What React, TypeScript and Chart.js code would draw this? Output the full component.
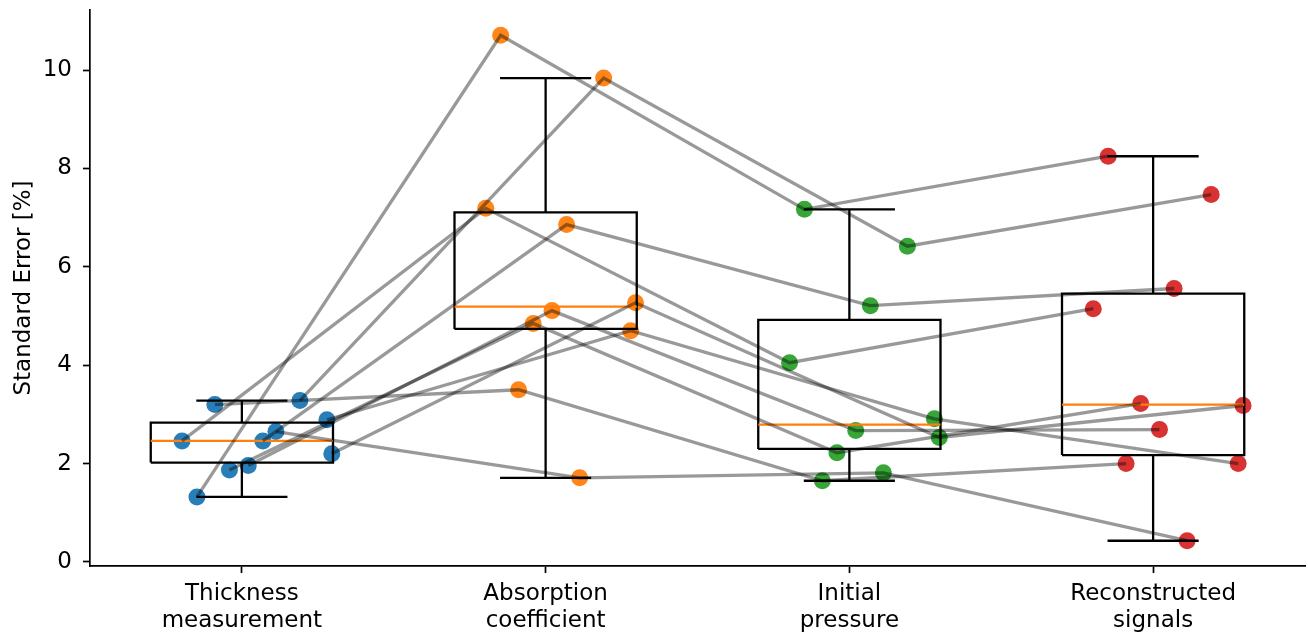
import React, { useEffect, useRef } from "react";
import { Chart, registerables } from "chart.js";

Chart.register(...registerables);

// ---- data ----
const categoryLabels: string[][] = [
  ["Thickness", "measurement"],
  ["Absorption", "coefficient"],
  ["Initial", "pressure"],
  ["Reconstructed", "signals"],
];
const categoryColors = [
  "rgba(31,119,180,0.95)",
  "rgba(255,127,14,0.95)",
  "rgba(44,160,44,0.95)",
  "rgba(214,39,40,0.95)",
];
// horizontal jitter of each subject (same for every category)
const subjectJitter = [-0.197, -0.148, -0.089, -0.041, 0.021, 0.069, 0.112, 0.191, 0.28, 0.296];
// standard error [%] per subject
const thicknessMeasurement = [2.46, 1.32, 3.2, 1.87, 1.96, 2.46, 2.65, 3.28, 2.89, 2.2];
const absorptionCoefficient = [7.19, 10.71, 3.5, 4.85, 5.11, 6.86, 1.71, 9.84, 4.7, 5.27];
const initialPressure = [4.05, 7.17, 1.65, 2.22, 2.67, 5.21, 1.81, 6.42, 2.91, 2.53];
const reconstructedSignals = [5.15, 8.25, 2.0, 3.22, 2.69, 5.56, 0.43, 7.47, 2.0, 3.18];
const yTickValues = [0, 2, 4, 6, 8, 10];

const series = [thicknessMeasurement, absorptionCoefficient, initialPressure, reconstructedSignals];

function quantile(sorted: number[], q: number) {
  const pos = (sorted.length - 1) * q;
  const lo = Math.floor(pos);
  const hi = Math.ceil(pos);
  return sorted[lo] + (sorted[hi] - sorted[lo]) * (pos - lo);
}

function boxStats(values: number[]) {
  const s = [...values].sort((a, b) => a - b);
  const q1 = quantile(s, 0.25);
  const med = quantile(s, 0.5);
  const q3 = quantile(s, 0.75);
  const iqr = q3 - q1;
  const lo = Math.min(...s.filter((v) => v >= q1 - 1.5 * iqr));
  const hi = Math.max(...s.filter((v) => v <= q3 + 1.5 * iqr));
  return { q1, med, q3, lo, hi };
}

const FONT = "'DejaVu Sans', 'Liberation Sans', sans-serif";
const FONT_SIZE = 23;
const BOX_HALF = 0.3;
const CAP_HALF = 0.15;

function segment(points: { x: number; y: number }[], color: string, width: number, order: number) {
  return {
    type: "scatter" as const,
    data: points,
    showLine: true,
    borderColor: color,
    borderWidth: width,
    pointRadius: 0,
    pointHoverRadius: 0,
    fill: false,
    order,
  };
}

export default function App() {
  const canvasRef = useRef<HTMLCanvasElement | null>(null);

  useEffect(() => {
    if (!canvasRef.current) return;
    const datasets: any[] = [];

    // scatter points per category
    series.forEach((vals, ci) => {
      datasets.push({
        type: "scatter",
        data: vals.map((v, si) => ({ x: ci + subjectJitter[si], y: v })),
        backgroundColor: categoryColors[ci],
        pointBackgroundColor: categoryColors[ci],
        pointBorderWidth: 0,
        pointRadius: 8.5,
        pointHoverRadius: 8.5,
        order: 4,
      });
    });

    // box plots
    series.forEach((vals, ci) => {
      const b = boxStats(vals);
      datasets.push(
        segment(
          [
            { x: ci - BOX_HALF, y: b.q1 },
            { x: ci + BOX_HALF, y: b.q1 },
            { x: ci + BOX_HALF, y: b.q3 },
            { x: ci - BOX_HALF, y: b.q3 },
            { x: ci - BOX_HALF, y: b.q1 },
          ],
          "#000",
          2.3,
          2
        )
      );
      datasets.push(segment([{ x: ci, y: b.q1 }, { x: ci, y: b.lo }], "#000", 2.3, 2));
      datasets.push(segment([{ x: ci, y: b.q3 }, { x: ci, y: b.hi }], "#000", 2.3, 2));
      datasets.push(segment([{ x: ci - CAP_HALF, y: b.lo }, { x: ci + CAP_HALF, y: b.lo }], "#000", 2.3, 2));
      datasets.push(segment([{ x: ci - CAP_HALF, y: b.hi }, { x: ci + CAP_HALF, y: b.hi }], "#000", 2.3, 2));
      datasets.push(segment([{ x: ci - BOX_HALF, y: b.med }, { x: ci + BOX_HALF, y: b.med }], "#ff7f0e", 2.3, 1));
    });

    // subject connecting lines
    subjectJitter.forEach((j, si) => {
      datasets.push(
        segment(
          series.map((vals, ci) => ({ x: ci + j, y: vals[si] })),
          "rgba(0,0,0,0.4)",
          3.3,
          0
        )
      );
    });

    const chart = new Chart(canvasRef.current, {
      type: "scatter",
      data: { datasets },
      options: {
        animation: false,
        responsive: false,
        layout: { autoPadding: false, padding: { left: 0, right: 3, top: 10, bottom: 0 } },
        plugins: { legend: { display: false }, tooltip: { enabled: false } },
        scales: {
          x: {
            type: "linear",
            min: -0.5,
            max: 3.5,
            afterBuildTicks: (s: any) => {
              s.ticks = categoryLabels.map((_, i) => ({ value: i }));
            },
            afterFit: (s: any) => {
              s.height = 635 - 566;
              s.paddingLeft = 0;
              s.paddingRight = 0;
            },
            ticks: {
              callback: (v: any) => categoryLabels[Math.round(Number(v))] ?? "",
              font: { family: FONT, size: FONT_SIZE },
              color: "#000",
              padding: 7,
              maxRotation: 0,
              autoSkip: false,
            },
            grid: {
              display: true,
              drawOnChartArea: false,
              drawTicks: true,
              tickLength: 7,
              tickWidth: 1.7,
              tickColor: "#000",
            },
            border: { display: true, color: "#000", width: 1.7 },
          },
          y: {
            type: "linear",
            min: -0.084,
            max: 11.224,
            afterBuildTicks: (s: any) => {
              s.ticks = yTickValues.map((v) => ({ value: v }));
            },
            afterFit: (s: any) => {
              s.width = 90;
              s.paddingTop = 0;
              s.paddingBottom = 0;
            },
            ticks: {
              callback: (v: any) => String(v),
              font: { family: FONT, size: FONT_SIZE },
              color: "#000",
              padding: 11,
            },
            grid: {
              display: true,
              drawOnChartArea: false,
              drawTicks: true,
              tickLength: 7,
              tickWidth: 1.7,
              tickColor: "#000",
            },
            border: { display: true, color: "#000", width: 1.7 },
            title: {
              display: true,
              text: "Standard Error [%]",
              font: { family: FONT, size: FONT_SIZE },
              color: "#000",
              padding: { top: 10, bottom: 0 },
            },
          },
        },
      } as any,
    });
    return () => chart.destroy();
  }, []);

  return (
    <div style={{ position: "absolute", left: 0, top: 0, width: 1308, height: 635, background: "#fff" }}>
      <canvas ref={canvasRef} width={1308} height={635} style={{ display: "block", width: 1308, height: 635 }} />
    </div>
  );
}
